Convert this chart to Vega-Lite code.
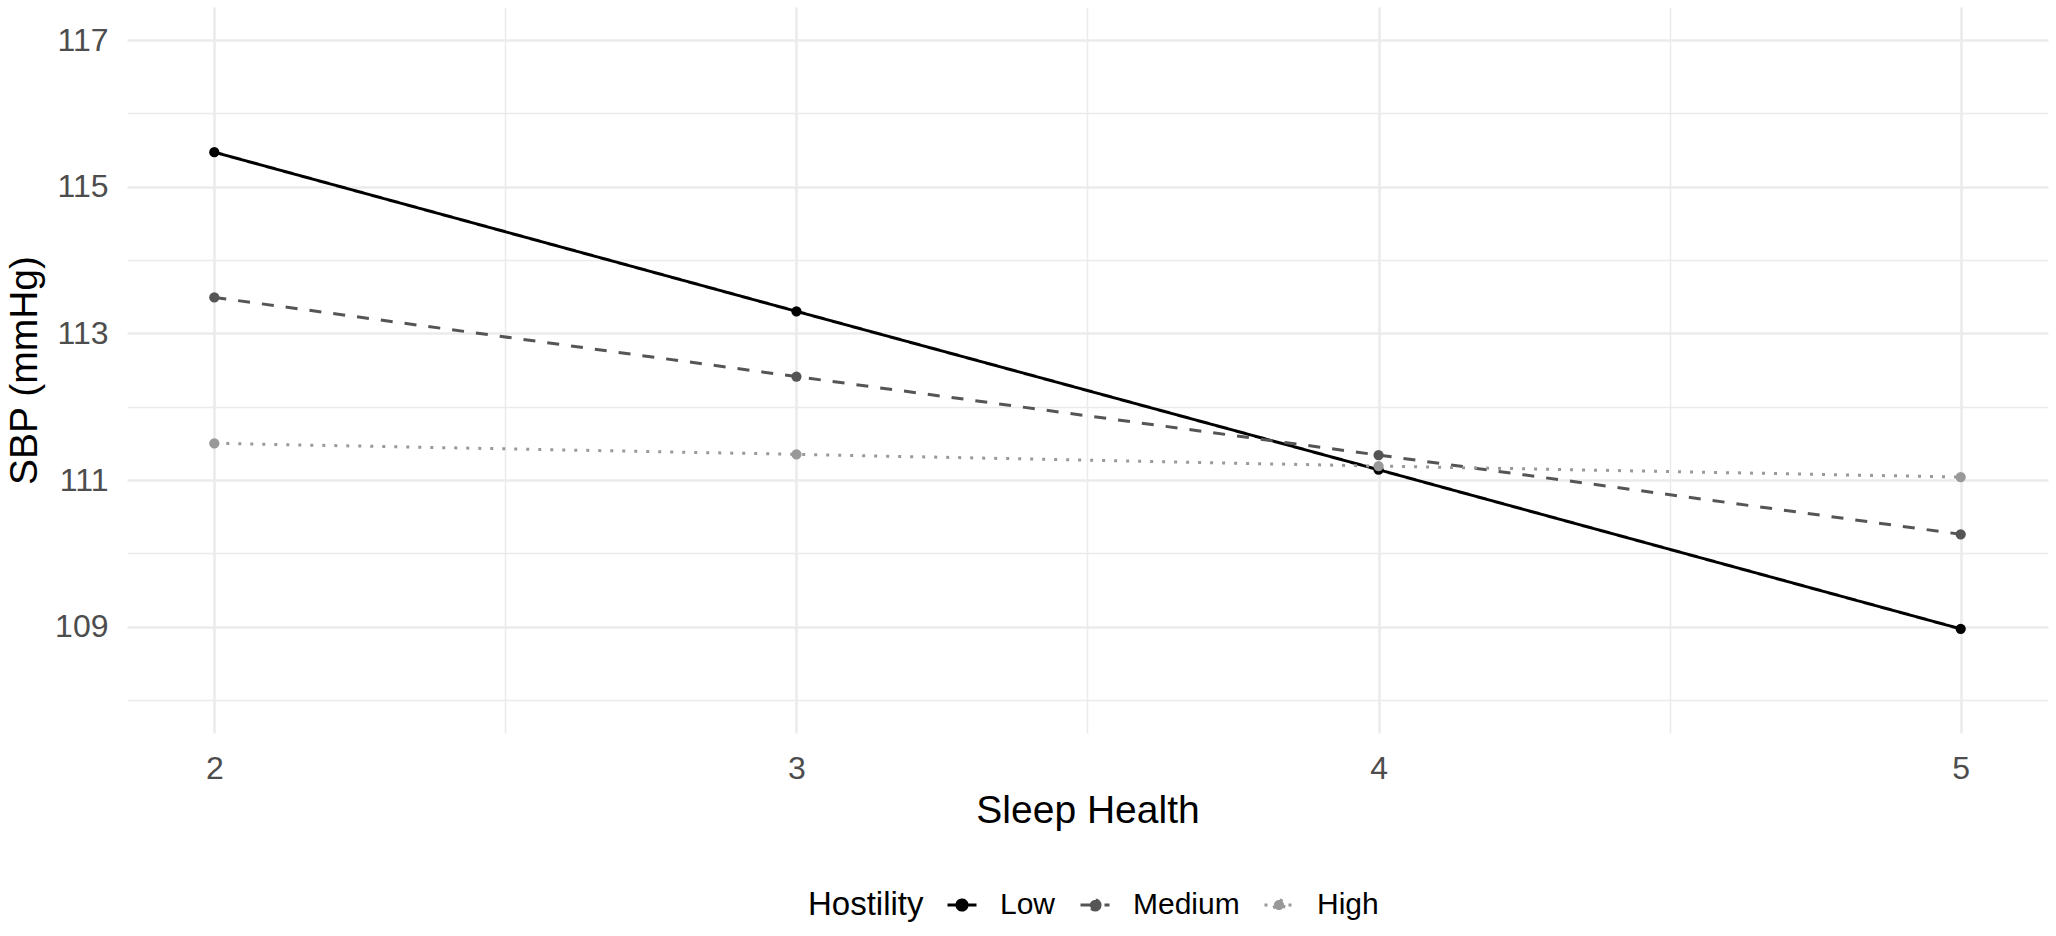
{
  "$schema": "https://vega.github.io/schema/vega-lite/v6.json",
  "autosize": {"type": "none"},
  "width": 1921,
  "height": 726,
  "padding": {"left": 127, "top": 7, "right": 8, "bottom": 203},
  "background": "white",
  "config": {
    "font": "Liberation Sans",
    "view": {"stroke": null},
    "axis": {
      "domain": false,
      "ticks": false,
      "labelFont": "Liberation Sans",
      "labelFontSize": 32,
      "labelColor": "#4D4D4D",
      "titleFont": "Liberation Sans",
      "titleFontSize": 39,
      "titleFontWeight": "normal",
      "titleColor": "#000000",
      "gridColor": "#EBEBEB"
    }
  },
  "data": {
    "values": [
      {"sleep": 2, "sbp": 115.47, "hostility": "Low"},
      {"sleep": 3, "sbp": 113.30, "hostility": "Low"},
      {"sleep": 4, "sbp": 111.14, "hostility": "Low"},
      {"sleep": 5, "sbp": 108.97, "hostility": "Low"},
      {"sleep": 2, "sbp": 113.49, "hostility": "Medium"},
      {"sleep": 3, "sbp": 112.41, "hostility": "Medium"},
      {"sleep": 4, "sbp": 111.34, "hostility": "Medium"},
      {"sleep": 5, "sbp": 110.26, "hostility": "Medium"},
      {"sleep": 2, "sbp": 111.50, "hostility": "High"},
      {"sleep": 3, "sbp": 111.35, "hostility": "High"},
      {"sleep": 4, "sbp": 111.19, "hostility": "High"},
      {"sleep": 5, "sbp": 111.04, "hostility": "High"}
    ]
  },
  "encoding": {
    "x": {
      "field": "sleep",
      "type": "quantitative",
      "title": "Sleep Health",
      "scale": {"domain": [1.85, 5.15], "nice": false, "zero": false},
      "axis": {
        "values": [2, 2.5, 3, 3.5, 4, 4.5, 5],
        "labelExpr": "datum.value % 1 == 0 ? format(datum.value, 'd') : ''",
        "labelPadding": 20,
        "titlePadding": 7,
        "gridWidth": {"condition": {"test": "datum.value % 1 == 0", "value": 2.6}, "value": 1.5}
      }
    },
    "y": {
      "field": "sbp",
      "type": "quantitative",
      "title": "SBP (mmHg)",
      "scale": {"domain": [107.55, 117.45], "nice": false, "zero": false},
      "axis": {
        "values": [108, 109, 110, 111, 112, 113, 114, 115, 116, 117],
        "labelExpr": "datum.value % 2 == 1 ? format(datum.value, 'd') : ''",
        "labelPadding": 19,
        "titlePadding": 10,
        "gridWidth": {"condition": {"test": "datum.value % 2 == 1", "value": 2.6}, "value": 1.5}
      }
    },
    "color": {
      "field": "hostility",
      "type": "nominal",
      "title": "Hostility",
      "scale": {"domain": ["Low", "Medium", "High"], "range": ["#000000", "#555555", "#999999"]},
      "legend": {
        "orient": "none",
        "legendX": 681,
        "legendY": 882,
        "direction": "horizontal",
        "titleOrient": "left",
        "titleFontSize": 33,
        "titleFontWeight": "normal",
        "titleColor": "#000000",
        "titleBaseline": "middle",
        "titlePadding": 22,
        "labelFontSize": 30,
        "labelColor": "#000000",
        "labelOffset": 22,
        "columnPadding": 18,
        "padding": 0,
        "symbolType": "M-1,0L1,0M0.35,0A0.35,0.35,0,1,1,-0.35,0A0.35,0.35,0,1,1,0.35,0Z",
        "symbolSize": 841,
        "symbolStrokeWidth": 3,
        "symbolOpacity": 1
      }
    }
  },
  "layer": [
    {
      "mark": {"type": "line", "strokeWidth": 3},
      "encoding": {
        "strokeDash": {
          "field": "hostility",
          "type": "nominal",
          "title": "Hostility",
          "scale": {"domain": ["Low", "Medium", "High"], "range": [[1, 0], [12, 12], [3, 9]]}
        }
      }
    },
    {
      "mark": {"type": "point", "filled": true, "size": 105, "opacity": 1}
    }
  ]
}
